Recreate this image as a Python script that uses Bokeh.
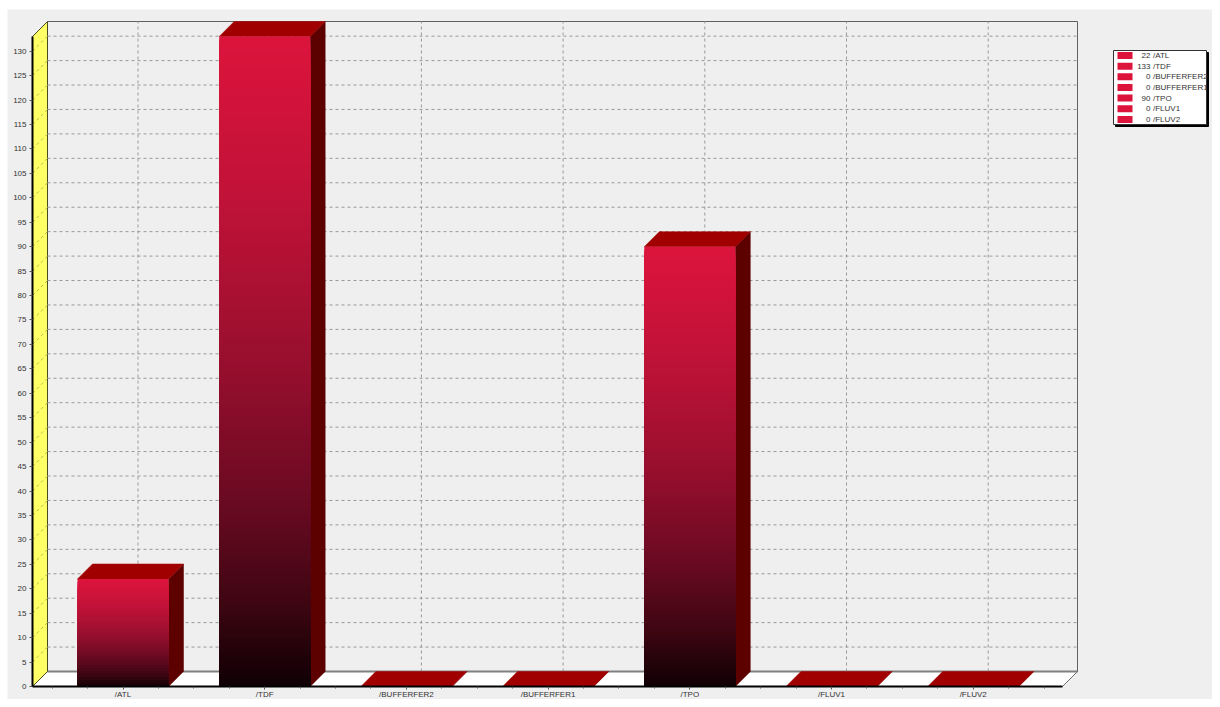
from bokeh.plotting import figure
from bokeh.models import Range1d, FixedTicker
from bokeh.embed import file_html
from bokeh.resources import INLINE
from bokeh.core.properties import value

categories = ["/ATL", "/TDF", "/BUFFERFER2", "/BUFFERFER1", "/TPO", "/FLUV1", "/FLUV2"]
counts = [22, 133, 0, 0, 90, 0, 0]
y_ticks = list(range(0, 131, 5))
y_top = 133

# pixel geometry of the pseudo-3D box
W, H = 1212, 699
X0_PX, Y0_PX = 122.5, 686.0   # category 0 on the front plane, value 0
CAT_PX, VAL_PX = 141.7, 650.0 / 133
LEFT_PX, RIGHT_PX = 32.0, 1062.0
DEPTH = 15.0
BAR_W = 91.0 / CAT_PX
DX, DY = DEPTH / CAT_PX, DEPTH / VAL_PX


def xd(px):
    return (px - X0_PX) / CAT_PX


def yd(py):
    return (Y0_PX - py) / VAL_PX


p = figure(width=W, height=H, output_backend="svg", toolbar_location=None,
           x_range=Range1d(xd(0), xd(W)),
           y_range=Range1d(yd(H), yd(0)),
           min_border_left=0, min_border_right=0, min_border_top=0, min_border_bottom=0)
p.background_fill_color = "white"
p.border_fill_color = "white"
p.outline_line_color = None
p.grid.visible = False

XL, XR = xd(LEFT_PX), xd(RIGHT_PX)

# grey panel
p.quad(left=[xd(7)], right=[xd(W)], top=[yd(9)], bottom=[yd(H)], fill_color="#efefef", line_color=None)

# floor
p.patch([XL, XL + DX, XR + DX, XR], [0, DY, DY, 0], fill_color="white", line_color="#707070", line_width=1)
p.line([XL + DX, XR + DX], [DY, DY], line_color="#808080", line_width=2)
# left wall
p.patch([XL, XL + DX, XL + DX, XL], [0, DY, y_top + DY, y_top], fill_color="#ffff66", line_color="#4a4a20", line_width=1)
# back wall edges
p.line([XL + DX, XR + DX, XR + DX], [y_top + DY, y_top + DY, DY], line_color="#606060", line_width=1)

# grid
grid_vals = [v for v in y_ticks if v > 0]
p.multi_line([[XL + DX, XR + DX] for _ in grid_vals], [[v + DY, v + DY] for v in grid_vals],
             line_color="#999999", line_dash="3 3", line_width=1)
p.multi_line([[XL, XL + DX] for _ in grid_vals], [[v, v + DY] for v in grid_vals],
             line_color="#b8b850", line_dash="3 3", line_width=1)
p.multi_line([[i + DX, i + DX] for i in range(len(categories))],
             [[DY, y_top + DY] for _ in categories],
             line_color="#999999", line_dash="3 3", line_width=1)

# bars
STOPS = [(0.0, (220, 20, 60)), (0.25, (192, 18, 56)), (0.5, (152, 15, 46)),
         (0.71, (107, 10, 34)), (0.87, (62, 6, 18)), (1.0, (14, 0, 4))]


def shade(t):
    for (t0, c0), (t1, c1) in zip(STOPS, STOPS[1:]):
        if t <= t1:
            f = (t - t0) / (t1 - t0)
            return "#%02x%02x%02x" % tuple(round(a + (b - a) * f) for a, b in zip(c0, c1))
    return "#%02x%02x%02x" % STOPS[-1][1]


for i, v in enumerate(counts):
    l, r = i - BAR_W / 2, i + BAR_W / 2
    p.patch([r, r + DX, r + DX, r], [0, DY, v + DY, v], fill_color="#5c0000", line_color="#5c0000", line_width=0.5)
    p.patch([l, l + DX, r + DX, r], [v, v + DY, v + DY, v], fill_color="#a00000", line_color="#a00000", line_width=0.5)
    if v > 0:
        steps = max(1, int(v * VAL_PX / 3))
        tops = [v * (1 - k / steps) for k in range(steps)]
        cols = [shade(k / steps) for k in range(steps)]
        p.quad(left=[l] * steps, right=[r] * steps, bottom=[0] * steps, top=tops, fill_color=cols, line_color=None)

# axes
xa, ya = p.xaxis[0], p.yaxis[0]
xa.fixed_location = 0
ya.fixed_location = XL
xa.bounds = (XL, XR)
ya.bounds = (0, y_top)
minor = [(m - 2) * 0.25 for m in range(0, 32) if (m - 2) % 4 != 0 and XL < (m - 2) * 0.25 < XR]
xa.ticker = FixedTicker(ticks=list(range(len(categories))), minor_ticks=minor)
xa.major_label_overrides = {i: c for i, c in enumerate(categories)}
ya.ticker = FixedTicker(ticks=y_ticks)
for a in (xa, ya):
    a.axis_line_color = "#000000"
    a.axis_line_width = 2
    a.major_tick_line_color = "#555555"
    a.major_tick_in = 0
    a.major_tick_out = 3
    a.major_label_text_font = "Liberation Sans"
    a.major_label_text_font_size = "8px"
    a.major_label_text_color = "#333333"
    a.major_label_standoff = 0
ya.major_label_standoff = 3
xa.minor_tick_line_color = "#555555"
xa.minor_tick_in = 0
xa.minor_tick_out = 2
ya.minor_tick_line_color = None

# legend
BOX = (1113.0, 50.0, 1206.0, 124.0)
p.quad(left=[xd(BOX[0] + 2)], right=[xd(BOX[2] + 2)], top=[yd(BOX[1] + 2)], bottom=[yd(BOX[3] + 2)],
       fill_color="black", line_color="black")
p.quad(left=[xd(BOX[0])], right=[xd(BOX[2])], top=[yd(BOX[1])], bottom=[yd(BOX[3])],
       fill_color="white", line_color="#333333")
rows = [BOX[1] + 5 + 10.65 * i for i in range(len(categories))]
p.quad(left=[xd(1117)] * len(rows), right=[xd(1132)] * len(rows),
       top=[yd(r - 3.5) for r in rows], bottom=[yd(r + 3.5) for r in rows],
       fill_color="#dc143c", line_color=None)
p.text(x=[xd(1150)] * len(rows), y=[yd(r) for r in rows], text=[str(v) for v in counts],
       text_font=value("Liberation Sans"), text_font_size="8px", text_color="#333333",
       text_align="right", text_baseline="middle")
p.text(x=[xd(1152.5)] * len(rows), y=[yd(r) for r in rows], text=categories,
       text_font=value("Liberation Sans"), text_font_size="8px", text_color="#333333",
       text_align="left", text_baseline="middle")

open("out.html", "w").write(file_html(p, INLINE))
